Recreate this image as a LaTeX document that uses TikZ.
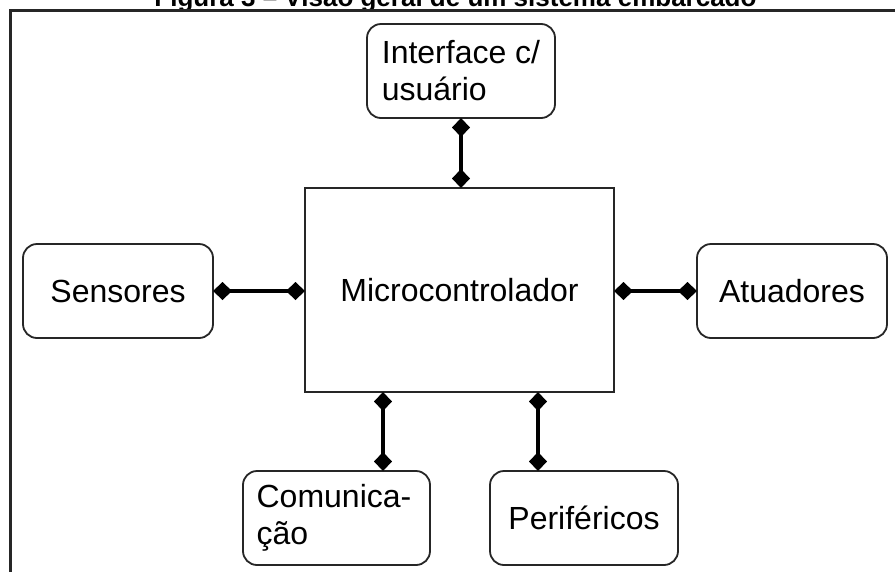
\documentclass[tikz,border=0pt]{standalone}
\usepackage{fontspec}
\setmainfont{Liberation Sans}
\usetikzlibrary{arrows.meta,calc}

\tikzset{
  block/.style={draw=black!85, line width=1.8pt, rounded corners=14pt,
    minimum width=190pt, minimum height=94pt, inner sep=0pt, outer sep=0pt,
    font=\fontsize{32}{37}\selectfont},
  core/.style={draw=black!85, line width=1.8pt, rounded corners=0pt,
    minimum width=309pt, minimum height=204pt, inner sep=0pt, outer sep=0pt,
    font=\fontsize{32}{37}\selectfont},
  link/.style={line width=4pt, black,
    {Diamond[length=19pt,width=18pt]}-{Diamond[length=19pt,width=18pt]}},
  frame/.style={line width=2.6pt, black!85},
}

\begin{document}
\begin{tikzpicture}[x=1pt,y=-1pt]
  \useasboundingbox (0,0) rectangle (895,571);

  % caption, partly above the page edge
  \node[anchor=base, inner sep=0pt, font=\bfseries\fontsize{26}{30}\selectfont]
    (caption) at (455.5,6.5) {Figura 3 – Visão geral de um sistema embarcado};

  % outer frame
  \coordinate (fbl) at (10.5,580);
  \coordinate (ftl) at (10.5,10.5);
  \coordinate (ftr) at (900,10.5);
  \draw[frame] (fbl) -- (ftl) -- (ftr);

  % blocks
  \node[core] (mc) at (459.5,290) {Microcontrolador};
  \node[block, minimum width=188pt, align=left] (ui) at (461,71) {Interface c/\\usuário};
  \node[block] (sen) at (118,291) {Sensores};
  \node[block] (act) at (792,291) {Atuadores};
  \node[block, minimum width=187pt, align=left] (com) at (336.5,518)
    {\hspace*{-5pt}Comunica-\\\hspace*{-5pt}ção};
  \node[block, minimum width=188pt] (per) at (584,518) {Periféricos};

  % connections
  \draw[link] (ui.south) -- (ui.south |- mc.north);
  \draw[link] (sen.east) -- (sen.east -| mc.west);
  \draw[link] (mc.east |- act.west) -- (act.west);
  \coordinate (c1) at ([xshift=46.5pt]com.north);
  \coordinate (c2) at ([xshift=-46pt]per.north);
  \draw[link] (mc.south -| c1) -- (c1);
  \draw[link] (mc.south -| c2) -- (c2);
\end{tikzpicture}
\end{document}
